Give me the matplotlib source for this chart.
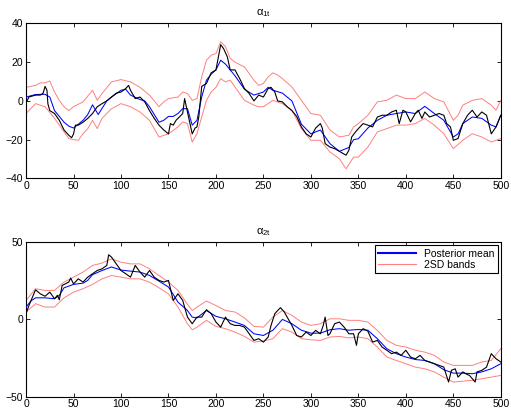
#! /usr/bin/env python3
# -*- coding: utf-8 -*-
import numpy as np
import matplotlib
matplotlib.use("Agg")
import matplotlib.pyplot as plt

plt.rcParams['font.family'] = ['Liberation Sans', 'DejaVu Sans']
plt.rcParams['font.size'] = 7.5
plt.rcParams['mathtext.fontset'] = 'custom'
plt.rcParams['mathtext.rm'] = 'Liberation Sans'
plt.rcParams['mathtext.it'] = 'Liberation Sans'

# --- alpha_1t ---
t1_mean = [0, 10, 20, 25, 30, 40, 45, 50, 55, 60, 65, 70, 76, 85, 90, 100, 105, 110, 120, 125,
           130, 140, 145, 150, 155, 160, 165, 170, 175, 180, 185, 190, 195, 200, 205, 210, 215,
           220, 230, 240, 250, 255, 260, 270, 280, 290, 300, 310, 320, 330, 340, 345, 350, 360,
           370, 380, 390, 400, 410, 420, 430, 440, 450, 455, 460, 470, 480, 490, 495, 500]
a1_mean = [2, 3.3, 3.4, 2, -5, -11, -13, -14, -12, -10, -7, -2, -7, 0, 2, 5.5, 6, 3, 0.7, 0,
           -3, -11, -10, -8, -8, -6.5, -4, -4, -12.5, -10, 2, 10.7, 13.8, 16, 21, 19, 16,
           13, 6, 3, 4.6, 7, 5.5, 4, 0, -12, -17, -15, -22, -26, -24, -20, -19.5, -14,
           -10, -7.4, -6.5, -5.7, -6.5, -2.8, -6.5, -10, -18.6, -17, -11.7, -8.3, -9, -12.5, -13.4, -7.4]

t1_true = [0, 3, 10, 15, 18, 20, 22, 23, 25, 30, 35, 40, 45, 48, 50, 52, 55, 60, 65, 70, 75, 80,
           85, 90, 95, 100, 105, 108, 110, 115, 120, 125, 130, 135, 140, 145, 150, 152, 155, 158,
           162, 165, 167, 170, 175, 178, 180, 182, 185, 190, 195, 200, 205, 208, 212, 215, 220,
           225, 230, 235, 240, 245, 250, 255, 258, 262, 265, 270, 275, 280, 285, 290, 295, 300,
           305, 310, 312, 315, 320, 325, 330, 337, 340, 343, 347, 350, 355, 360, 365, 370, 375,
           380, 385, 390, 393, 397, 400, 405, 410, 413, 417, 420, 425, 430, 435, 440, 443, 447,
           450, 455, 460, 465, 470, 475, 480, 485, 490, 495, 500]
a1_true = [-1, 2, 3, 3, 4, 7.5, 5.5, -1.5, -5, -6.5, -10, -15, -17.7, -19, -17, -12.5, -12.5, -11,
           -9, -6.5, -3, -1.4, 0, 2, 4, 4.6, 6.4, 8, 5.5, 1.2, 2, -0.5, -5, -9, -12.5, -15, -17,
           -11.7, -12.5, -10, -8, -6.5, 1.2, -5.7, -17, -14, -13.4, -8, 7.5, 9, 14.5, 16, 29, 27,
           22.7, 16, 16, 11.5, 6.4, 3.8, 0, 3, 2, 6.4, 7, 4.6, 0, -0.5, -3, -5, -8, -13.4, -17,
           -18.6, -14, -11.7, -14, -22, -23.8, -24.6, -26, -28, -25.5, -18.6, -16, -14.3, -11.7,
           -12.5, -13.4, -8.3, -7.4, -7.4, -5.7, -4.8, -11.7, -4.8, -5.7, -10.8, -6.5, -4.8, -9,
           -5.7, -8.3, -7.4, -6.5, -7.4, -11.7, -13.4, -20.3, -19.4, -11.7, -7.4, -4.8, -8.3, -5.7,
           -7.4, -17, -13.4, -7.4]

t1_up = [0, 10, 15, 20, 25, 30, 35, 40, 45, 50, 60, 70, 75, 80, 90, 100, 110, 120, 130, 140, 145,
         150, 160, 165, 170, 175, 180, 185, 190, 195, 200, 205, 210, 215, 220, 230, 240, 245, 250,
         255, 260, 265, 270, 280, 290, 300, 310, 320, 330, 340, 345, 350, 360, 370, 380, 390, 400,
         410, 420, 430, 440, 450, 455, 460, 470, 480, 490, 495, 500]
a1_up = [7, 8, 9.3, 9.3, 10.3, 4.6, 0.3, -3, -5, -3, -0.5, 5.5, 0.3, 3.8, 9.8, 11, 9.8, 7, 3, -3,
         -0.5, 1.2, 2, 4.6, 3.8, 0.3, 1.2, 12.4, 21, 23.6, 24.4, 30.5, 28, 22, 20, 17.5, 10.7, 8, 9,
         12.4, 14.5, 13.3, 11.5, 7.2, 0.3, -6.5, -7.4, -15, -18.6, -17.7, -13.4, -11.7, -7.4, -0.5,
         0.3, 3, 1.2, 1.2, 4.6, 1.2, -0.5, -10, -7.4, -2.2, 0.3, 1.2, -2.2, -4.8, 0.3]

t1_lo = [0, 10, 20, 30, 40, 45, 50, 55, 60, 65, 70, 75, 80, 90, 100, 110, 120, 130, 140, 150, 160,
         165, 170, 175, 180, 185, 190, 195, 200, 205, 210, 215, 220, 230, 240, 245, 250, 260, 270,
         280, 290, 300, 310, 320, 330, 337, 345, 350, 360, 370, 380, 390, 400, 410, 420, 430, 440,
         450, 460, 470, 480, 490, 500]
a1_lo = [-6.5, -1.4, -3, -9, -16, -19.4, -20, -20.3, -16.9, -14.3, -10, -14.3, -9, -4, -1.4, -3,
         -5.7, -10, -18.6, -17, -13.4, -10.8, -11.7, -21.2, -16.9, -8.3, 0.3, 4.6, 7, 11.5, 9.8,
         10.7, 7.2, 0.3, -2.2, -3, -3, 0.3, -1.4, -4.8, -14.3, -20.3, -20.3, -26.3, -29.8, -35,
         -29, -29, -23.8, -16, -14.3, -12.5, -12.5, -11.7, -9, -12.5, -16.9, -24.6, -20.3, -16.9,
         -18.6, -21.2, -19.4]

# --- alpha_2t ---
t2_mean = [0, 5, 10, 20, 30, 35, 40, 50, 60, 65, 70, 80, 90, 100, 110, 120, 130, 140, 150, 155,
           160, 170, 175, 180, 190, 200, 210, 220, 230, 240, 250, 260, 270, 280, 290, 300, 310,
           320, 330, 340, 350, 360, 370, 380, 390, 400, 410, 420, 430, 440, 450, 460, 470, 480,
           490, 500]
a2_mean = [8, 11.9, 14, 14, 13.4, 15.6, 20.5, 22.7, 23.5, 25.3, 29, 31.7, 34, 32, 31.3, 30.7,
           28.5, 24.8, 21, 16.2, 11.2, 5.8, 1.5, 1, 5.8, 2, 0.4, -1.7, -3.9, -9.3, -10.4, -7, 0,
           -2.8, -7, -8.9, -8.9, -6.7, -6, -7, -6.5, -7, -12.5, -19, -22.2, -24.4, -26, -26.6,
           -28.7, -32.6, -34.8, -34.8, -35.2, -34, -32, -28.7]

t2_true = [0, 3, 10, 15, 20, 25, 30, 33, 35, 38, 45, 47, 50, 55, 60, 65, 70, 75, 80, 85, 87, 90,
           95, 100, 105, 110, 115, 120, 125, 130, 135, 140, 145, 150, 155, 160, 165, 170, 175,
           180, 185, 190, 195, 200, 205, 210, 215, 220, 225, 230, 235, 240, 245, 250, 255, 258,
           262, 265, 268, 272, 275, 280, 285, 290, 295, 300, 305, 310, 313, 315, 318, 320, 325,
           330, 335, 340, 345, 348, 350, 355, 360, 365, 370, 375, 380, 385, 390, 395, 400, 405,
           410, 415, 420, 425, 430, 435, 440, 445, 448, 452, 455, 460, 463, 467, 470, 473, 475,
           480, 485, 490, 495, 500]
a2_true = [3.7, 9, 19.2, 16.6, 15, 17.7, 13.4, 15.6, 12.7, 22, 24.2, 26.8, 23, 26.3, 24.2, 27.4,
           29.6, 31.7, 32.8, 35, 41.9, 40.4, 36, 31.7, 29.6, 27.4, 35, 30.7, 27.4, 31.7, 27.4,
           25.3, 24.2, 25.3, 12.3, 16.6, 12.3, 1.5, -2.8, 1.5, 1.5, 6.3, 3.7, -1.7, -5, 1.5, -2.8,
           -3.9, -3.9, -5, -9.3, -13.6, -12.5, -14.7, -11.4, -3.9, 3.7, 5.8, 7.6, 4.8, 1.5, -3.9,
           -10.4, -11.4, -8.2, -10.4, -7.1, -9.3, -3.9, 1.5, -10.4, -9.3, -2.8, -1.7, -5, -9.3,
           -9.3, -16.8, -9.3, -6, -7.6, -14.7, -13.6, -17.9, -20, -22.2, -21.2, -23.3, -20, -24.4,
           -25.5, -23.3, -26.6, -27.6, -28.7, -29.8, -30.9, -40.6, -33, -32, -37.4, -34, -35.2,
           -36.3, -38.4, -40.6, -34, -33, -30.9, -22.2, -25.5, -27.6]

t2_band = [0, 10, 20, 30, 40, 50, 60, 70, 80, 90, 100, 110, 120, 130, 140, 150, 160, 170, 175,
           180, 190, 200, 210, 220, 230, 240, 250, 260, 270, 280, 290, 300, 310, 320, 330, 340,
           350, 360, 370, 380, 390, 400, 410, 420, 430, 440, 450, 460, 470, 480, 490, 500]
a2_up = [12.3, 19.9, 18.8, 18.8, 24.2, 27.4, 30.7, 35, 36.5, 39.3, 37.1, 36, 36, 32.8, 28.5,
         24.2, 18.8, 9.7, 5.8, 8, 11.9, 9, 5.8, 4.8, 1, -4.5, -5, 1.5, 5.8, 2.6, -1.7, -3.9,
         -2.8, 0.4, 0.4, -0.6, -0.6, -1.7, -7.1, -13.6, -16.8, -17.9, -20, -21.2, -23.3, -27.6,
         -29.8, -29.8, -29.8, -27.6, -26.6, -19]
a2_lo = [4.8, 10.2, 8, 8, 14, 17.7, 19.9, 22.7, 26.3, 28.5, 27.4, 26.3, 26.3, 24.2, 20.5, 16.6,
         8, -2.8, -6.7, -5, -0.6, -4.5, -6, -8.2, -11, -14.7, -14, -12.5, -6, -8.2, -12.5, -13.2,
         -13.6, -11.4, -11, -12, -11.4, -12.5, -17.9, -24.4, -26.6, -28.7, -30.9, -32, -34, -37.4,
         -40.6, -40, -39.5, -38.4, -37.4, -36.3]

red = '#ff7f7f'

fig = plt.figure(figsize=(5.11, 4.17), dpi=100)
ax1 = fig.add_axes([0.051, 0.572, 0.929, 0.372])
ax2 = fig.add_axes([0.051, 0.049, 0.929, 0.370])


def rysuj(ax, tm, m, tt, tr, tu, up, tl, lo):
    ax.plot(tu, up, color=red, linewidth=0.7, zorder=2)
    ax.plot(tl, lo, color=red, linewidth=0.7, zorder=2)
    ax.plot(tm, m, color='#0000ff', linewidth=0.75, zorder=3)
    ax.plot(tt, tr, color='black', linewidth=0.8, zorder=4)
    ax.set_xlim(0, 500)
    ax.set_xticks(np.arange(0, 501, 50))
    ax.tick_params(direction='in', top=True, right=True, length=3, width=0.6, pad=2)
    for s in ax.spines.values():
        s.set_linewidth(0.8)


rysuj(ax1, t1_mean, a1_mean, t1_true, a1_true, t1_up, a1_up, t1_lo, a1_lo)
ax1.set_ylim(-40, 40)
ax1.set_yticks([-40, -20, 0, 20, 40])
ax1.set_title(r'$\alpha_{\rm 1t}$', fontsize=8, pad=6)

rysuj(ax2, t2_mean, a2_mean, t2_true, a2_true, t2_band, a2_up, t2_band, a2_lo)
ax2.set_ylim(-50, 50)
ax2.set_yticks([-50, 0, 50])
ax2.set_title(r'$\alpha_{\rm 2t}$', fontsize=8, pad=6)

h1, = ax2.plot([], [], color='#0000ff', linewidth=1.5)
h2, = ax2.plot([], [], color=red, linewidth=0.8)
leg = ax2.legend([h1, h2], ['Posterior mean', '2SD bands'], loc='upper right',
                 fancybox=False, edgecolor='black', framealpha=1, borderpad=0.3,
                 handlelength=3.6, labelspacing=0.15, borderaxespad=0.3)
leg.get_frame().set_linewidth(0.8)

fig.savefig('out.png', dpi=100)
